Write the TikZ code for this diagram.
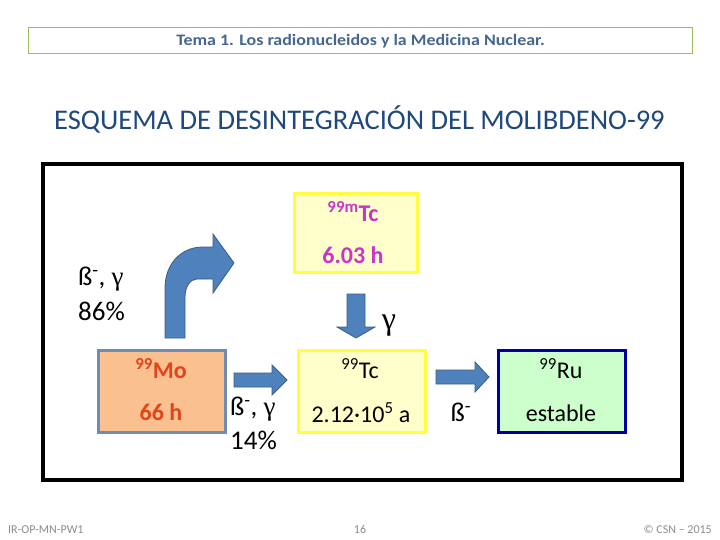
\documentclass[tikz,border=0pt]{standalone}
\usepackage{fontspec}
\setmainfont{Carlito}
\newfontfamily\grk{Liberation Serif}
\definecolor{hdrline}{RGB}{155,187,89}
\definecolor{hdrtext}{RGB}{68,102,143}
\definecolor{titleblue}{RGB}{31,73,125}
\definecolor{arrowfill}{RGB}{79,129,189}
\definecolor{arrowline}{RGB}{56,93,138}
\definecolor{tcline}{RGB}{255,255,64}
\definecolor{tcfill}{RGB}{255,255,204}
\definecolor{magentatxt}{RGB}{204,51,204}
\definecolor{mofill}{RGB}{250,192,144}
\definecolor{moline}{RGB}{110,140,180}
\definecolor{motxt}{RGB}{226,68,28}
\definecolor{ruline}{RGB}{0,0,160}
\definecolor{rufill}{RGB}{204,255,204}
\definecolor{footgray}{RGB}{140,140,140}
\tikzset{
  blockarrow/.style={fill=arrowfill,draw=arrowline,line width=0.8pt,line join=miter},
  nucbox/.style={line width=3pt},
  body/.style={font=\fontsize{24}{28}\selectfont,inner sep=0pt},
  lbl/.style={font=\fontsize{27}{30}\selectfont,inner sep=0pt},
  foot/.style={font=\fontsize{12}{14}\selectfont,text=footgray,inner sep=0pt}
}
\begin{document}
\begin{tikzpicture}[x=1pt,y=-1pt]
\useasboundingbox (0,0) rectangle (720,540);
\fill[white] (0,0) rectangle (720,540);
% header
\node[draw=hdrline,line width=1pt,minimum width=664pt,minimum height=26pt,inner sep=0pt,
  text=hdrtext,font=\fontsize{16}{18}\selectfont\bfseries] (hdr) at (360.5,41)
  {\scalebox{1.12}[1]{Tema 1. Los radionucleidos y la Medicina Nuclear.}};
% title
\node[text=titleblue,font=\fontsize{28.5}{32}\selectfont,inner sep=0pt] (title) at (359.5,119)
  {ESQUEMA DE DESINTEGRACIÓN DEL MOLIBDENO-99};
% frame
\draw[line width=4pt] (43,164) rectangle (682,480);
% boxes
\node[nucbox,draw=tcline,fill=tcfill,minimum width=123pt,minimum height=78pt] (tcm) at (355.5,233) {};
\node[body,text=magentatxt,font=\fontsize{24}{28}\selectfont\bfseries] (tcmname) at (353,212) {\textsuperscript{99m}Tc};
\node[body,text=magentatxt,font=\fontsize{24}{28}\selectfont\bfseries] (tcmhl) at (353,255) {6.03 h};

\node[nucbox,draw=moline,fill=mofill,minimum width=127pt,minimum height=82pt] (mo) at (161.5,391) {};
\node[body,text=motxt,font=\fontsize{24}{28}\selectfont\bfseries] (moname) at (161,369) {\textsuperscript{99}Mo};
\node[body,text=motxt,font=\fontsize{24}{28}\selectfont\bfseries] (mohl) at (161,412) {66 h};

\node[nucbox,draw=tcline,fill=tcfill,minimum width=127pt,minimum height=82pt] (tc) at (361.5,391) {};
\node[body] (tcname) at (360,369) {\textsuperscript{99}Tc};
\node[body] (tchl) at (361,413) {2.12\textperiodcentered10\textsuperscript{5} a};

\node[nucbox,draw=ruline,fill=rufill,minimum width=127pt,minimum height=82pt] (ru) at (561.5,391) {};
\node[body] (runame) at (561,369) {\textsuperscript{99}Ru};
\node[body] (ruhl) at (561,413) {estable};

% curved arrow Mo -> 99mTc
\draw[blockarrow] (165,338) -- (165,288)
  .. controls (165,265) and (180,247) .. (203,247)
  -- (213,247) -- (213,234) -- (234,263) -- (213,293) -- (213,279)
  -- (197,279) .. controls (190,279) and (185,287) .. (185,297)
  -- (185,338) -- cycle;
% down arrow 99mTc -> 99Tc
\draw[blockarrow] (347,294) -- (365,294) -- (365,327) -- (375,327) -- (356,338)
  -- (337,327) -- (347,327) -- cycle;
% Mo -> Tc
\draw[blockarrow] (234,373) -- (272,373) -- (272,365) -- (287,380) -- (272,395)
  -- (272,387) -- (234,387) -- cycle;
% Tc -> Ru
\draw[blockarrow] (436,370) -- (475,370) -- (475,362) -- (489,377) -- (475,392)
  -- (475,384) -- (436,384) -- cycle;

% labels
\node[lbl,anchor=west] (l86a) at (78,279) {ß\textsuperscript{-}, {\grk γ}};
\node[lbl,anchor=west] (l86b) at (78,311) {86\%};
\node[lbl,anchor=west] (l14a) at (230,409) {ß\textsuperscript{-}, {\grk γ}};
\node[lbl,anchor=west] (l14b) at (230,440) {14\%};
\node[body,font=\fontsize{32}{34}\grk] (lg) at (389,326) {γ};
\node[lbl] (lb) at (461,412) {ß\textsuperscript{-}};

% footer
\node[foot,anchor=base west] (f1) at (8,533) {IR-OP-MN-PW1};
\node[foot,anchor=base] (f2) at (360,533) {16};
\node[foot,anchor=base east] (f3) at (712,533) {© CSN – 2015};
\end{tikzpicture}
\end{document}
